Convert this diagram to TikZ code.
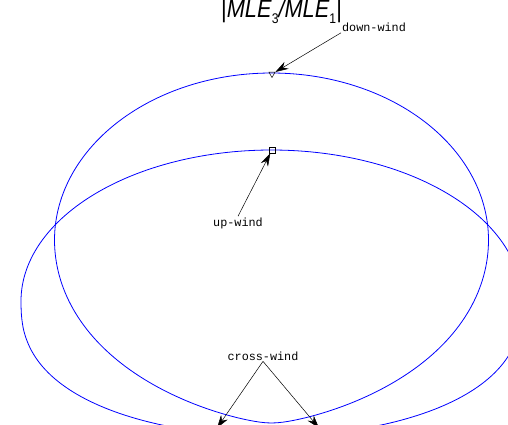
\documentclass[tikz,border=0pt]{standalone}
\usepackage{fontspec}
\usepackage{tikz}
\usetikzlibrary{arrows.meta,shapes.geometric}
\newfontfamily\labelfont{Liberation Mono}
\newfontfamily\titlefont{Liberation Sans}

\begin{document}
\begin{tikzpicture}[x=1pt,y=-1pt,
  windcurve/.style={blue,line width=0.8pt},
  pointer/.style={-{Stealth[length=13pt,width=8pt]},line width=0.5pt},
  windlabel/.style={font=\labelfont\fontsize{11.8}{12}\selectfont,inner sep=1pt,anchor=base},
  marker/.style={draw,inner sep=0pt,line width=0.5pt}]
  \useasboundingbox (0,0) rectangle (508,425);

  % Ratio curves (upper half elliptic, lower half bent)
  \draw[windcurve,variable=\t,samples=121]
    plot[domain=-90:90] ({271.5+217*sin(\t)},{240-167*cos(\t)})
    -- plot[domain=90:-90] ({271.5+217*sin(\t)},{240+183*cos(\t)*(1-0.18*(sqrt(sin(\t)^2+0.004)-0.063)+0.1*sin(\t)^2)})
    -- cycle;
  \draw[windcurve,variable=\t,samples=121]
    plot[domain=-90:90] ({271.5+250.5*sin(\t)},{301-151*cos(\t)})
    -- plot[domain=89.9:-89.9] ({271.5+250.5*sin(\t)},{301+135*pow(abs(cos(\t)),0.8)})
    -- cycle;

  % Title
  \node[anchor=base west,inner sep=0pt,xscale=0.87,font=\titlefont\fontsize{25}{26}\selectfont] (title) at (221,17.3)
    {|\textit{MLE}\raisebox{-6.7pt}{\fontsize{14}{15}\selectfont 3}\textit{/MLE}\raisebox{-6.7pt}{\fontsize{14}{15}\selectfont 1}|};

  % Markers
  \node[marker,regular polygon,regular polygon sides=3,shape border rotate=180,minimum size=7pt] (downmark) at (272,74) {};
  \node[marker,minimum size=6pt] (upmark) at (272,150) {};
  \coordinate (crossleft) at (217,428);
  \coordinate (crossright) at (319,428);

  % Labels
  \node[windlabel] (downlbl) at (374,31.5) {down-wind};
  \node[windlabel] (uplbl) at (238,226) {up-wind};
  \node[windlabel] (crosslbl) at (263,360) {cross-wind};

  % Pointers
  \draw[pointer] (downlbl.south west) -- (downmark);
  \draw[pointer] (uplbl.north) -- (upmark);
  \draw[pointer] (crosslbl.south) -- (crossleft);
  \draw[pointer] (crosslbl.south) -- (crossright);
\end{tikzpicture}
\end{document}
